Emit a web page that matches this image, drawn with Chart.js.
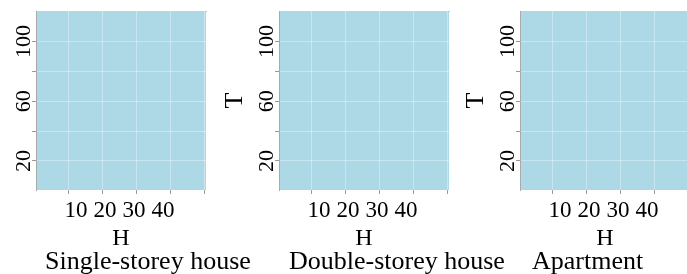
<!DOCTYPE html>
<html>
<head>
<meta charset="utf-8">
<script src="https://cdn.jsdelivr.net/npm/chart.js@4/dist/chart.umd.min.js"></script>
<style>
  html, body { margin: 0; padding: 0; background: #ffffff; }
  body { width: 687px; height: 274px; overflow: hidden; position: relative; }
  canvas { position: absolute; top: 0; }
  .caption { position: absolute; top: 248px; font-family: 'Liberation Serif', 'Times New Roman', serif; font-size: 26px; line-height: 26px; color: #000; white-space: nowrap; }
</style>
</head>
<body>
<script>
// ---- data ----
const panelTitles = ['Single-storey house', 'Double-storey house', 'Apartment'];
const hValues = [1, 2, 3, 4, 5, 6, 7, 8, 9, 10, 11, 12, 13, 14, 15, 16, 17, 18, 19, 20,
                 21, 22, 23, 24, 25, 26, 27, 28, 29, 30, 31, 32, 33, 34, 35, 36, 37, 38, 39, 40,
                 41, 42, 43, 44, 45, 46, 47, 48, 49, 50];
const singleT = [1, 120];
const doubleT = [1, 120];
const apartmentT = [1, 120];
const panelT = [singleT, doubleT, apartmentT];
const xTicks = [10, 20, 30, 40, 50];
const xTickLabels = ['10', '20', '30', '40', ''];
const yTicks = [20, 40, 60, 80, 100];
const yTickLabels = ['20', '', '60', '', '100'];
const xTitle = 'H';
const yTitle = 'T';

// ---- layout (styling only) ----
const FONT = "'Liberation Serif', 'Times New Roman', serif";
const chartLefts = [36, 279, 520];
const captionOffsets = [9, 10, 12];
const Y_W = 60, PLOT_W = 170, RIGHT_PAD = 6, H = 274;
const TILE = 0.5;
const xMin = hValues[0] - TILE, xMax = hValues[hValues.length - 1] + TILE;
const labelCompress = 0.853;
const labMid = 25.2;
const labMin = labMid - (labMid - xMin) / labelCompress;
const labMax = labMid + (xMax - labMid) / labelCompress;
const GRID = 'rgba(255,255,255,0.35)';

function setTicks(values) {
  return function (scale) { scale.ticks = values.map(v => ({ value: v })); };
}

panelTitles.forEach((title, i) => {
  const canvas = document.createElement('canvas');
  const w = Y_W + PLOT_W + RIGHT_PAD;
  canvas.width = w; canvas.height = H;
  canvas.style.width = w + 'px'; canvas.style.height = H + 'px';
  canvas.style.left = (chartLefts[i] - Y_W) + 'px';
  document.body.appendChild(canvas);

  const cap = document.createElement('div');
  cap.className = 'caption';
  cap.textContent = title;
  cap.style.left = (chartLefts[i] + captionOffsets[i]) + 'px';
  document.body.appendChild(cap);

  const tr = panelT[i];
  const yMin = tr[0] - TILE, yMax = tr[1] + TILE;

  new Chart(canvas, {
    type: 'bar',
    data: {
      datasets: [{
        data: hValues.map(h => ({ x: h, y: [tr[0] - TILE, tr[1] + TILE] })),
        backgroundColor: '#ADD8E6',
        borderWidth: 0,
        barPercentage: 1.3,
        categoryPercentage: 1,
        clip: 0,
        xAxisID: 'x',
        yAxisID: 'y'
      }]
    },
    options: {
      responsive: false,
      animation: false,
      devicePixelRatio: 1,
      layout: { padding: { top: 11, bottom: 20, left: 0, right: RIGHT_PAD } },
      plugins: { legend: { display: false }, tooltip: { enabled: false } },
      scales: {
        x: {
          type: 'linear', position: 'bottom', weight: 0, offset: false,
          min: xMin, max: xMax,
          afterBuildTicks: setTicks(xTicks),
          afterFit: s => { s.height = 5; },
          ticks: { display: false, autoSkip: false },
          grid: { offset: false, z: 1, color: GRID, lineWidth: 1, drawTicks: true, tickLength: 4, tickColor: '#999' },
          border: { display: false, z: 1 }
        },
        xLab: {
          type: 'linear', position: 'bottom', weight: 1, offset: false,
          min: labMin, max: labMax,
          afterBuildTicks: setTicks(xTicks.slice(0, 4)),
          afterFit: s => { s.height = 59; },
          ticks: {
            autoSkip: false, maxRotation: 0, minRotation: 0, padding: 2.2,
            color: '#000', font: { family: FONT, size: 23 },
            callback: (v, idx) => xTickLabels[idx]
          },
          grid: { offset: false, display: false, drawTicks: false },
          border: { display: false },
          title: { display: true, text: xTitle, color: '#000', font: { family: FONT, size: 24 }, padding: { top: 0, bottom: 0.8 } }
        },
        xTop: {
          type: 'linear', position: 'top', offset: false,
          min: xMin, max: xMax,
          afterFit: s => { s.height = 0; },
          ticks: { display: false },
          grid: { offset: false, display: false, drawTicks: false },
          border: { display: true, color: '#bbb', width: 1 }
        },
        y: {
          type: 'linear', position: 'left',
          min: yMin, max: yMax,
          afterBuildTicks: setTicks(yTicks),
          afterFit: s => { s.width = Y_W; },
          ticks: {
            autoSkip: false, minRotation: 90, maxRotation: 90, crossAlign: 'center', padding: -9,
            color: '#000', font: { family: FONT, size: 22 },
            callback: (v, idx) => yTickLabels[idx]
          },
          grid: { z: 1, color: GRID, lineWidth: 1, drawTicks: true, tickLength: 4, tickColor: '#999' },
          border: { display: true, color: '#aaa', width: 1, z: 1 },
          title: { display: true, text: yTitle, color: '#000', font: { family: FONT, size: 26 }, padding: { top: 0.9, bottom: 0 } }
        }
      }
    }
  });
});
</script>
</body>
</html>
